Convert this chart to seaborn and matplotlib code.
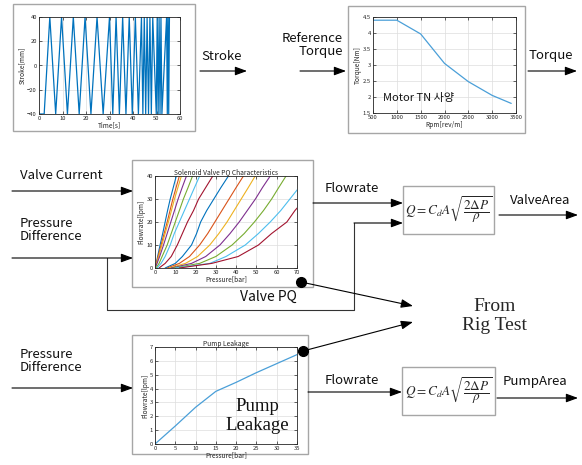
import matplotlib
matplotlib.use("Agg")
import matplotlib.pyplot as plt
from matplotlib.patches import Rectangle
import numpy as np
import pandas as pd
import seaborn as sns

# ---- data ----
stroke_t = [0, 2.2, 4.6, 7.1, 9.6, 12.1, 14.6, 17.1, 19.6, 22.1, 24.7, 27.3, 30.0,
            31.4, 32.8, 34.2, 35.6, 37.0, 38.4, 39.7, 41.0, 42.3, 43.6, 44.2, 44.8,
            45.4, 46.0, 46.6, 47.2, 47.8, 48.4, 49.9, 50.3, 50.7, 51.1, 51.5, 51.9,
            52.3, 54.3, 54.6, 54.9, 55.2, 55.5]
stroke_mm = [-40, -40, 40, -40, 40, -40, 40, -40, 40, -40, 40, -40, 40,
             -40, 40, -40, 40, -40, 40, -40, 40, -40, 40, -40, 40,
             -40, 40, -40, 40, -40, 40, -40, 40, -40, 40, -40, 40,
             -40, 40, -40, 40, -40, 40]

torque_rpm = [500, 1000, 1500, 2000, 2500, 3000, 3400]
torque_nm = [4.4, 4.4, 3.97, 3.05, 2.48, 2.05, 1.8]

# valve PQ: pressure [bar] at which each curve reaches these flowrates [lpm]
pq_flow = [0, 2, 5, 10, 15, 20, 25, 30, 35, 40]
pq_c1 = [0, 0.6, 1.3, 2.5, 3.8, 5, 6.2, 7.5, 9, 10.5]
pq_c2 = [0, 0.7, 1.5, 3, 4.5, 6, 7.4, 8.8, 10.4, 12]
pq_c3 = [0, 0.8, 1.8, 3.4, 5, 6.6, 8.1, 9.6, 11.3, 13]
pq_c4 = [0, 1, 2.3, 4.2, 6, 7.8, 9.6, 11.4, 13.4, 15.5]
pq_c5 = [0.5, 2, 3.5, 6, 8, 10, 12, 14, 16.3, 18.5]
pq_c6 = [1, 3, 5, 7.5, 9.5, 12, 14.5, 17, 19.5, 22]
pq_c7 = [2, 5, 8, 11, 13.5, 16, 19, 21.5, 25, 28.5]
pq_c8 = [5, 10, 13.5, 18, 20.5, 22.5, 25.5, 29, 32.5, 36.2]
pq_c9 = [6, 12, 17, 22, 26, 29.5, 33, 36.5, 40, 43.6]
pq_c10 = [7, 15, 21, 27, 31.5, 35.5, 39, 42.5, 46, 49.4]
pq_c11 = [8, 18, 25, 32, 37, 41.5, 45.5, 49.5, 53, 56.8]
pq_c12 = [9, 22, 30, 38, 44, 49, 53.5, 57.5, 61, 64.6]
pq_c13 = [10, 27, 35, 44.5, 51, 56.8, 62, 66.5, 71, 76]
pq_c14 = [12, 28, 41, 51, 57.5, 65, 69, 74, 78, 82]
pq_curves = [pq_c1, pq_c2, pq_c3, pq_c4, pq_c5, pq_c6, pq_c7,
             pq_c8, pq_c9, pq_c10, pq_c11, pq_c12, pq_c13, pq_c14]

pump_bar = [0, 5, 10, 15, 20, 25, 30, 35]
pump_flow = [0, 1.3, 2.65, 3.8, 4.45, 5.15, 5.8, 6.45]

matlab = ["#0072BD", "#D95319", "#EDB120", "#7E2F8E", "#77AC30", "#4DBEEE", "#A2142F"]

sns.set_theme(style="ticks")
plt.rcParams['font.family'] = ['Noto Sans CJK KR', 'DejaVu Sans']
plt.rcParams['mathtext.fontset'] = 'stix'

W, H = 582, 465
fig = plt.figure(figsize=(W / 100, H / 100), dpi=100)
bg = fig.add_axes([0, 0, 1, 1])
bg.set_xlim(0, W)
bg.set_ylim(H, 0)
bg.axis("off")


def ax_at(l, t, r, b):
    a = fig.add_axes([l / W, 1 - b / H, (r - l) / W, (b - t) / H])
    a.set_facecolor("white")
    for s in a.spines.values():
        s.set_color("#262626")
        s.set_linewidth(0.6)
    a.tick_params(direction="in", length=2, width=0.5, labelsize=4.2,
                  colors="#262626", pad=1.5, top=True, right=True)
    a.grid(True, color="#dddddd", lw=0.5)
    return a


def frame(l, t, r, b):
    bg.add_patch(Rectangle((l, t), r - l, b - t, fill=False, ec="#a6a6a6", lw=1))


def arrow(x0, y0, x1, y1):
    bg.annotate("", xy=(x1, y1), xytext=(x0, y0),
                arrowprops=dict(arrowstyle="-|>,head_length=0.6,head_width=0.22",
                                color="black", lw=0.8, shrinkA=0, shrinkB=0))


def label(x, y, s, ha="left", size=9.5, **kw):
    bg.text(x, y, s, ha=ha, va="center", fontsize=size, color="#111111", **kw)


formula = r"$Q = C_dA\sqrt{\dfrac{2\Delta P}{\rho}}$"

# ---- stroke chart ----
frame(13, 4, 195, 131)
ax1 = ax_at(39, 17, 180, 114)
sns.lineplot(x=stroke_t, y=stroke_mm, ax=ax1, color=matlab[0], lw=0.9,
             estimator=None, sort=False)
ax1.set_xlim(0, 60)
ax1.set_ylim(-40, 40)
ax1.set_xticks(range(0, 61, 10))
ax1.set_yticks(range(-40, 41, 20))
ax1.set_xlabel("Time[s]", fontsize=4.8, labelpad=0.5)
ax1.set_ylabel("Stroke[mm]", fontsize=4.8, labelpad=0.5)
label(201, 56, "Stroke")
arrow(200, 71, 247, 71)

# ---- torque chart ----
label(343, 45, "Reference\nTorque", ha="right", linespacing=1.05)
arrow(300, 71, 346, 71)
frame(348, 6, 525, 133)
ax2 = ax_at(373, 17, 516, 113)
sns.lineplot(x=torque_rpm, y=torque_nm, ax=ax2, color="#4a9fd8", lw=0.9)
ax2.set_xlim(500, 3500)
ax2.set_ylim(1.5, 4.5)
ax2.set_xticks(range(500, 3501, 500))
ax2.set_yticks(np.arange(1.5, 4.51, 0.5))
ax2.set_yticklabels(["1.5", "2", "2.5", "3", "3.5", "4", "4.5"])
ax2.set_xlabel("Rpm[rev/m]", fontsize=4.8, labelpad=0.5)
ax2.set_ylabel("Torque[Nm]", fontsize=4.8, labelpad=0.5)
ax2.text(383, 98, "Motor TN 사양", transform=bg.transData, ha="left",
         va="center", fontsize=8, color="#111111")
label(529, 56, "Torque")
arrow(528, 71, 577, 71)

# ---- valve PQ chart ----
label(20, 175, "Valve Current")
arrow(12, 191, 133, 191)
label(20, 230, "Pressure\nDifference", linespacing=1.05)
arrow(12, 258, 133, 258)
bg.plot([107, 107, 354, 354], [258, 310, 310, 223], color="#333333", lw=0.8)
arrow(354, 223, 403, 223)

frame(132, 160, 313, 287)
ax3 = ax_at(155, 176, 297, 268)
rows = []
for i, c in enumerate(pq_curves):
    for p, q in zip(c, pq_flow):
        rows.append({"curve": i, "pressure": p, "flow": q})
pq = pd.DataFrame(rows)
pal = [matlab[i % 7] for i in range(len(pq_curves))]
sns.lineplot(data=pq, x="pressure", y="flow", hue="curve", palette=pal, ax=ax3,
             lw=0.8, estimator=None, sort=False, legend=False)
ax3.set_xlim(0, 70)
ax3.set_ylim(0, 40)
ax3.set_xticks(range(0, 71, 10))
ax3.set_yticks(range(0, 41, 10))
ax3.set_title("Solenoid Valve PQ Characteristics", fontsize=4.8, pad=1)
ax3.set_xlabel("Pressure[bar]", fontsize=4.8, labelpad=0.5)
ax3.set_ylabel("Flowrate[lpm]", fontsize=4.8, labelpad=0.5)
label(240, 297, "Valve PQ", size=10)

label(325, 188, "Flowrate")
arrow(313, 203, 403, 203)
frame(403, 186, 494, 234)
bg.text(449, 210, formula, ha="center", va="center", fontsize=9.5)
label(510, 200, "ValveArea")
arrow(499, 215, 578, 215)

# ---- rig test links ----
bg.plot([301], [282], "o", color="black", ms=7)
arrow(301, 282, 413, 306)
bg.text(495, 316, "From\nRig Test", ha="center", va="center", fontsize=14,
        family=["Liberation Serif"], linespacing=1.1)

# ---- pump leakage chart ----
label(20, 361, "Pressure\nDifference", linespacing=1.05)
arrow(12, 388, 133, 388)
frame(132, 335, 308, 454)
ax4 = ax_at(155, 347, 297, 444)
sns.lineplot(x=pump_bar, y=pump_flow, ax=ax4, color="#4a9fd8", lw=0.9)
ax4.set_xlim(0, 35)
ax4.set_ylim(0, 7)
ax4.set_xticks(range(0, 36, 5))
ax4.set_yticks(range(0, 8))
ax4.set_title("Pump Leakage", fontsize=4.8, pad=1)
ax4.set_xlabel("Pressure[bar]", fontsize=4.8, labelpad=0.5)
ax4.set_ylabel("Flowrate[lpm]", fontsize=4.8, labelpad=0.5)
ax4.text(257, 416, "Pump\nLeakage", transform=bg.transData, ha="center",
         va="center", fontsize=13.5, family=["Liberation Serif"],
         linespacing=1.15, color="#111111")
bg.plot([303], [351], "o", color="black", ms=7, zorder=5)
arrow(303, 351, 413, 322)

label(325, 380, "Flowrate")
arrow(308, 392, 402, 392)
frame(402, 367, 495, 415)
bg.text(449, 391, formula, ha="center", va="center", fontsize=9.5)
label(503, 381, "PumpArea")
arrow(497, 398, 578, 398)

fig.savefig("out.png", dpi=100)
